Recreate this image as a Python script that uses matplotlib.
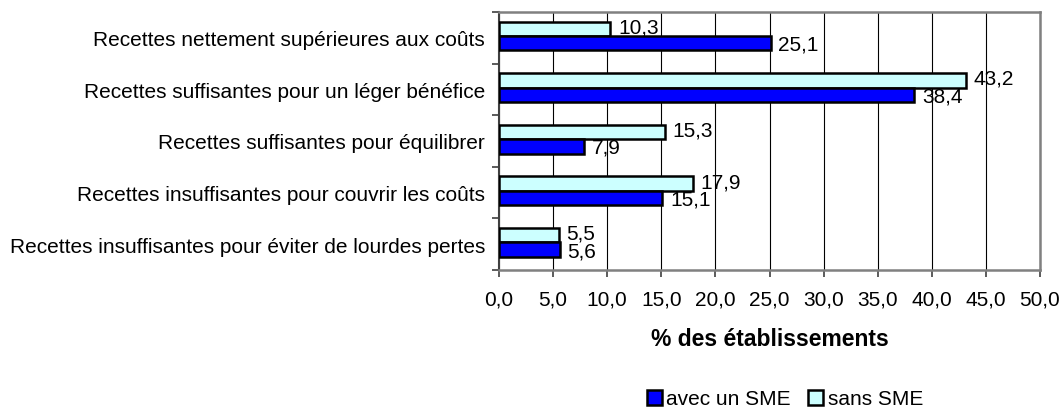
import numpy as np
import matplotlib.pyplot as plt
from matplotlib import rcParams

categories = ["Recettes nettement supérieures aux coûts",
              "Recettes suffisantes pour un léger bénéfice",
              "Recettes suffisantes pour équilibrer",
              "Recettes insuffisantes pour couvrir les coûts",
              "Recettes insuffisantes pour éviter de lourdes pertes"]
avec_sme = [25.1, 38.4, 7.9, 15.1, 5.6]
sans_sme = [10.3, 43.2, 15.3, 17.9, 5.5]
xticks = np.arange(0, 55, 5)

rcParams['font.family'] = ["Liberation Sans", "DejaVu Sans"]
fs = 15

fig = plt.figure(figsize=(10.62, 4.10), dpi=100)
ax = fig.add_axes([499/1062, 1 - 271/410, (1040 - 499)/1062, (271 - 13)/410])

y = np.arange(len(categories))
h = 0.28
y_sans = y - 0.035 - h/2
y_avec = y - 0.035 + h/2

ax.barh(y_sans, sans_sme, height=h, color="#CCFFFF", edgecolor="black", linewidth=1.8,
        label="sans SME", zorder=3)
ax.barh(y_avec, avec_sme, height=h, color="#0000FF", edgecolor="black", linewidth=1.8,
        label="avec un SME", zorder=3)

def fmt(v):
    return ("%.1f" % v).replace(".", ",")

for yy, v in zip(y_sans, sans_sme):
    ax.text(v + 0.7, yy - 0.04, fmt(v), va="center", ha="left", fontsize=fs, zorder=2)
for yy, v in zip(y_avec, avec_sme):
    ax.text(v + 0.7, yy + 0.02, fmt(v), va="center", ha="left", fontsize=fs, zorder=4)

ax.set_xlim(0, 50)
ax.set_ylim(4.5, -0.5)
ax.set_xticks(xticks)
ax.set_xticklabels([fmt(t) for t in xticks], fontsize=fs)
ax.set_yticks(y)
ax.set_yticklabels(categories, fontsize=fs)
ax.set_yticks(np.arange(-0.5, 5, 1), minor=True)
ax.tick_params(axis="y", which="major", length=0, pad=10)
ax.tick_params(axis="y", which="minor", length=5, width=1.2, color="#404040")
ax.tick_params(axis="x", which="major", length=5, width=1.2, color="#404040", pad=9)

ax.grid(axis="x", color="black", linewidth=0.8, zorder=0)
ax.set_axisbelow(True)

for s in ["top", "right", "bottom"]:
    ax.spines[s].set_color("#808080")
    ax.spines[s].set_linewidth(1.8)
ax.spines["left"].set_color("#404040")
ax.spines["left"].set_linewidth(1.5)

ax.set_xlabel("% des établissements", fontsize=16.5, fontweight="bold", labelpad=13)

handles, labels = ax.get_legend_handles_labels()
fig.legend(handles[::-1], labels[::-1], loc="center", bbox_to_anchor=(785/1062, 1 - 400/410),
           ncol=2, frameon=False, fontsize=fs, handlelength=0.72, handleheight=0.72,
           handletextpad=0.2, columnspacing=0.85, borderpad=0.1)

plt.savefig("out.png", dpi=100)
